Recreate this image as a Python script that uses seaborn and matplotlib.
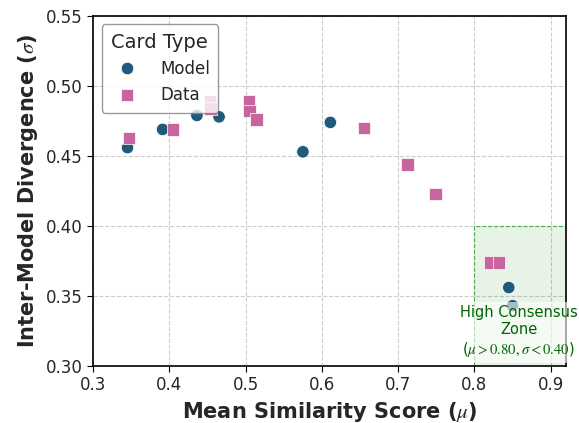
import pandas as pd
import matplotlib.pyplot as plt
import matplotlib.patches as mpatches
import seaborn as sns

# Valores
model_mu = [0.345, 0.391, 0.436, 0.465, 0.575, 0.611, 0.845, 0.850]
model_sigma = [0.456, 0.469, 0.479, 0.478, 0.453, 0.474, 0.356, 0.343]
data_mu = [0.347, 0.405, 0.453, 0.454, 0.504, 0.505, 0.514, 0.655, 0.712, 0.749, 0.821, 0.832]
data_sigma = [0.463, 0.469, 0.489, 0.484, 0.489, 0.482, 0.476, 0.470, 0.444, 0.423, 0.374, 0.374]

df = pd.DataFrame({
    'mu': model_mu + data_mu,
    'sigma': model_sigma + data_sigma,
    'Card Type': ['Model'] * len(model_mu) + ['Data'] * len(data_mu),
})

sns.set_style('whitegrid', {'grid.linestyle': '--', 'axes.edgecolor': 'black'})
plt.rcParams['mathtext.fontset'] = 'stix'

fig, ax = plt.subplots(figsize=(5.79, 4.23), dpi=100)
sns.scatterplot(data=df, x='mu', y='sigma', hue='Card Type', style='Card Type',
                palette={'Model': '#1f5b78', 'Data': '#c8649e'},
                markers={'Model': 'o', 'Data': 's'}, s=80, edgecolor='white',
                linewidth=0.5, ax=ax, zorder=3)

ax.set_xlim(0.3, 0.92)
ax.set_ylim(0.30, 0.55)

# Zona de alto consenso
ax.add_patch(mpatches.Rectangle((0.80, 0.30), 0.12, 0.10, facecolor='green', alpha=0.09,
                                zorder=1))
ax.add_patch(mpatches.Rectangle((0.80, 0.30), 0.12, 0.10, facecolor='none',
                                edgecolor='#4caf50', linestyle='--', linewidth=0.8, zorder=2))
ax.text(0.858, 0.3245, 'High Consensus\nZone\n($\\mu > 0.80, \\sigma < 0.40$)',
        ha='center', va='center', color='darkgreen', fontsize=10.5, zorder=4,
        bbox=dict(facecolor='white', alpha=0.6, edgecolor='none', pad=3), clip_on=False)

ax.set_xlabel('Mean Similarity Score ($\\mu$)', fontsize=15, fontweight='bold')
ax.set_ylabel('Inter-Model Divergence ($\\sigma$)', fontsize=15, fontweight='bold')
ax.tick_params(labelsize=12, length=4, color='black', left=True, bottom=True)
for sp in ax.spines.values():
    sp.set_linewidth(1.2)

leg = ax.legend(title='Card Type', fontsize=12, title_fontsize=14, loc='upper left',
                handletextpad=1.0, markerscale=1.0, borderpad=0.5, edgecolor='gray')

fig.subplots_adjust(left=0.161, right=0.9775, top=0.962, bottom=0.135)
plt.savefig('out.png')
